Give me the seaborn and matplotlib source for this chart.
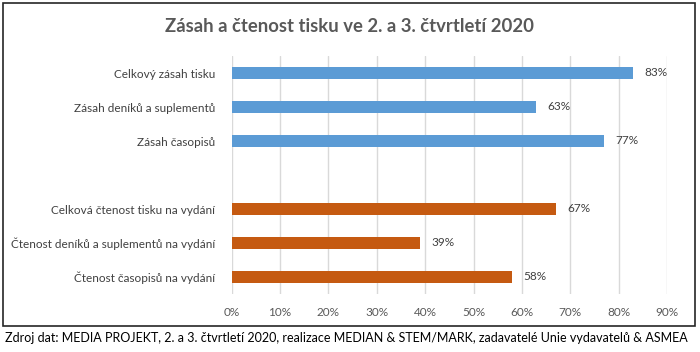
import matplotlib
matplotlib.use("Agg")
import matplotlib.pyplot as plt
from matplotlib.patches import Rectangle
import pandas as pd
import seaborn as sns

categories = [
    "Celkový zásah tisku",
    "Zásah deníků a suplementů",
    "Zásah časopisů",
    "Celková čtenost tisku na vydání",
    "Čtenost deníků a suplementů na vydání",
    "Čtenost časopisů na vydání",
]
values = [83, 63, 77, 67, 39, 58]
groups = ["zasah", "zasah", "zasah", "ctenost", "ctenost", "ctenost"]
order = categories[:3] + [" "] + categories[3:]
xticks = [0, 10, 20, 30, 40, 50, 60, 70, 80, 90]

df = pd.DataFrame({"kategorie": categories, "hodnota": values, "skupina": groups})

sns.set_style("white")
plt.rcParams["font.family"] = ["Lato", "DejaVu Sans"]

fig = plt.figure(figsize=(7, 3.52), dpi=100)
ax = fig.add_axes([0.331, 1 - 294 / 352, 0.622, 238 / 352])

sns.barplot(
    data=df, x="hodnota", y="kategorie", hue="skupina", order=order,
    palette={"zasah": "#5B9BD5", "ctenost": "#C55A11"},
    dodge=False, width=0.36, legend=False, ax=ax,
    edgecolor="none", saturation=1,
)

for cont in ax.containers:
    ax.bar_label(cont, labels=[f"{v:.0f}%" for v in cont.datavalues],
                 padding=8, fontsize=8.5, color="#404040")

ax.set_xlim(0, 90)
ax.set_xticks(xticks)
ax.set_xticklabels([f"{t}%" for t in xticks], fontsize=8.5, color="#595959")
ax.tick_params(axis="y", labelsize=8.5, labelcolor="#404040", length=0, pad=12)
ax.tick_params(axis="x", length=0, pad=9)
ax.set_xlabel("")
ax.set_ylabel("")
ax.grid(axis="x", color="#D9D9D9", linewidth=1)
ax.set_axisbelow(True)
for s in ax.spines.values():
    s.set_visible(False)

fig.text(0.499, 0.925, "Zásah a čtenost tisku ve 2. a 3. čtvrtletí 2020",
         ha="center", va="center", fontsize=13.3, fontweight="bold", color="#595959")
fig.text(0.007, 0.04,
         "Zdroj dat: MEDIA PROJEKT, 2. a 3. čtvrtletí 2020, realizace MEDIAN & STEM/MARK, zadavatelé Unie vydavatelů & ASMEA",
         ha="left", va="center", fontsize=9.0, color="black")
fig.patches.append(Rectangle((3 / 700, 1 - 326 / 352), 692 / 700, 323 / 352,
                             transform=fig.transFigure, fill=False,
                             edgecolor="#262626", linewidth=1.2))

fig.savefig("out.png", dpi=100)
